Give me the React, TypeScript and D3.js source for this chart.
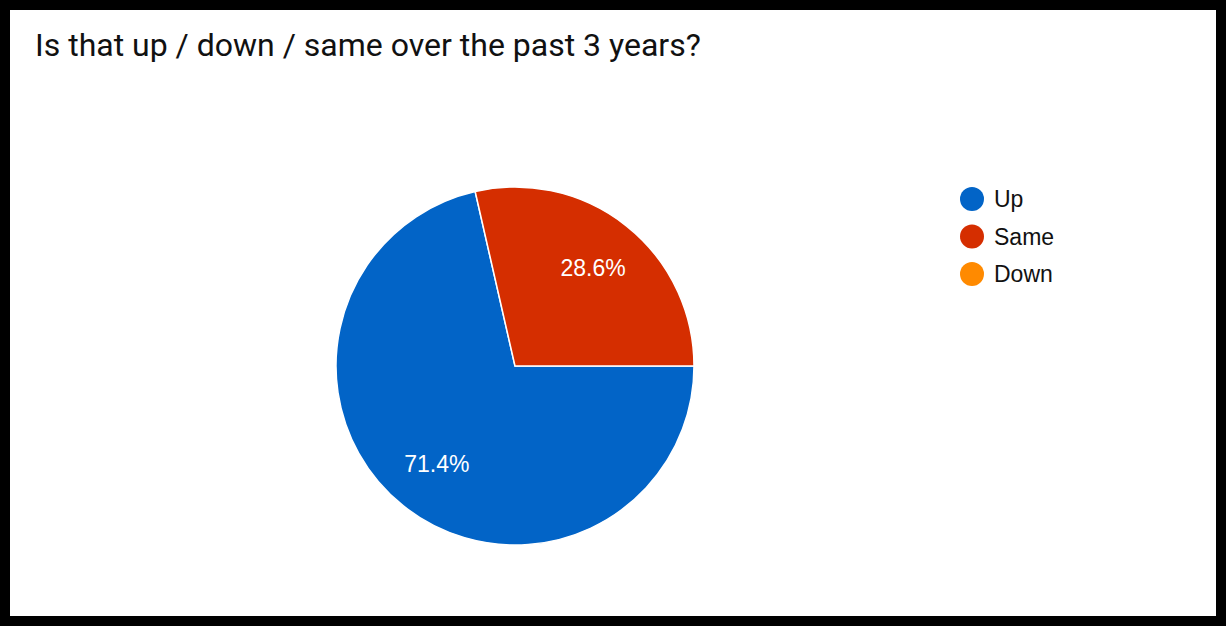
import { useEffect, useRef } from 'react'
import * as d3 from 'd3'

const categories = ['Up', 'Same', 'Down']
const counts = [5, 2, 0]
const colors = ['#0264c7', '#d52e00', '#ff8a00']
const title = 'Is that up / down / same over the past 3 years?'

export default function App() {
  const svgRef = useRef<SVGSVGElement>(null)

  useEffect(() => {
    if (!svgRef.current) return
    const svg = d3.select(svgRef.current)
    svg.selectAll('*').remove()

    const width = 1226
    const height = 626

    // black frame around the white card
    svg.append('rect').attr('width', width).attr('height', height).attr('fill', '#000')
    svg.append('rect')
      .attr('x', 10).attr('y', 10)
      .attr('width', width - 20).attr('height', height - 20)
      .attr('fill', '#fff')

    svg.append('text')
      .attr('x', 35)
      .attr('y', 56)
      .attr('font-family', 'Roboto, sans-serif')
      .attr('font-size', '32px')
      .attr('fill', '#111')
      .text(title)

    const data = categories.map((c, i) => ({ label: c, value: counts[i] }))
    const total = d3.sum(counts)
    const color = d3.scaleOrdinal<string, string>().domain(categories).range(colors)

    const cx = 515
    const cy = 366
    const radius = 179

    const pie = d3.pie<{ label: string; value: number }>()
      .value(d => d.value)
      .sort(null)
      .startAngle(Math.PI / 2)
      .endAngle(Math.PI / 2 + 2 * Math.PI)

    const arcs = pie(data).filter(d => d.value > 0)
    const arc = d3.arc<d3.PieArcDatum<{ label: string; value: number }>>()
      .innerRadius(0)
      .outerRadius(radius)
    const labelArc = d3.arc<d3.PieArcDatum<{ label: string; value: number }>>()
      .innerRadius(radius * 0.7)
      .outerRadius(radius * 0.7)

    const g = svg.append('g').attr('transform', `translate(${cx},${cy})`)

    g.selectAll('path.slice')
      .data(arcs)
      .join('path')
      .attr('class', 'slice')
      .attr('d', arc)
      .attr('fill', d => color(d.data.label))
      .attr('stroke', '#fff')
      .attr('stroke-width', 1.5)

    g.selectAll('text.pct')
      .data(arcs)
      .join('text')
      .attr('class', 'pct')
      .attr('transform', d => `translate(${labelArc.centroid(d)})`)
      .attr('text-anchor', 'middle')
      .attr('dy', '0.35em')
      .attr('font-family', 'Arial, Liberation Sans, sans-serif')
      .attr('font-size', '23px')
      .attr('fill', '#fff')
      .text(d => `${((d.value / total) * 100).toFixed(1)}%`)

    // legend
    const legendY = d3.scalePoint<string>().domain(categories).range([199, 274])
    const legend = svg.append('g')
    const items = legend.selectAll('g')
      .data(categories)
      .join('g')
      .attr('transform', d => `translate(972,${legendY(d)})`)
    items.append('circle')
      .attr('r', 12)
      .attr('fill', d => color(d))
    items.append('text')
      .attr('x', 22)
      .attr('dy', '0.35em')
      .attr('font-family', 'Arial, Liberation Sans, sans-serif')
      .attr('font-size', '23px')
      .attr('fill', '#111')
      .text(d => d)
  }, [])

  return (
    <svg
      ref={svgRef}
      width={1226}
      height={626}
      style={{ position: 'absolute', left: 0, top: 0, display: 'block' }}
    />
  )
}
